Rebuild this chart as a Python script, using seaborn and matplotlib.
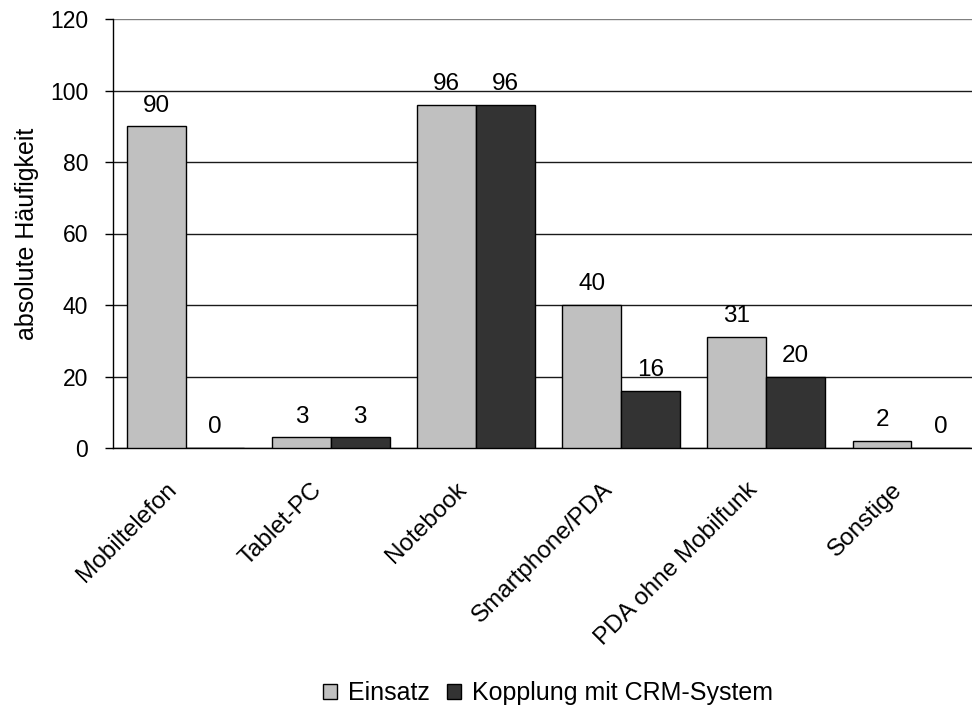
import matplotlib
matplotlib.use("Agg")
import matplotlib.pyplot as plt
import matplotlib.transforms as mtransforms
import seaborn as sns
import pandas as pd
from matplotlib.patches import Patch
from matplotlib.ticker import FixedLocator

# Data
categories = ["Mobiltelefon", "Tablet-PC", "Notebook", "Smartphone/PDA",
              "PDA ohne Mobilfunk", "Sonstige"]
einsatz = [90, 3, 96, 40, 31, 2]
kopplung = [0, 3, 96, 16, 20, 0]
series = ["Einsatz", "Kopplung mit CRM-System"]
colors = ["#C0C0C0", "#333333"]
y_ticks = [0, 20, 40, 60, 80, 100, 120]

df = pd.DataFrame({
    "Gerät": categories * 2,
    "Anzahl": einsatz + kopplung,
    "Serie": [series[0]] * len(categories) + [series[1]] * len(categories),
})

sns.set_style("white", {"text.color": "black", "axes.labelcolor": "black",
                        "xtick.color": "black", "ytick.color": "black"})
plt.rcParams["font.family"] = ["Liberation Sans", "DejaVu Sans"]
FS = 17

fig = plt.figure(figsize=(9.72, 7.10), dpi=100)
ax = fig.add_axes([113 / 972, 1 - 448 / 710, (984 - 113) / 972, (448 - 19) / 710])

sns.barplot(data=df, x="Gerät", y="Anzahl", hue="Serie", order=categories,
            hue_order=series, palette=colors, width=0.81, gap=0,
            edgecolor="black", linewidth=1.0, ax=ax, legend=False, zorder=3)

for cont in ax.containers:
    ax.bar_label(cont, fmt="%d", padding=7, fontsize=FS + 0.5, color="black")

ax.set_ylim(0, 120)
ax.set_xlim(-0.5, len(categories) - 0.5)
ax.set_yticks(y_ticks)
ax.set_yticklabels([str(v) for v in y_ticks], fontsize=FS - 0.5, color="black")
ax.yaxis.grid(True, color="#1a1a1a", linewidth=1.0, zorder=0)
ax.set_axisbelow(True)
# the top gridline is drawn a bit lighter
ax.get_ygridlines()[-1].set_color("#808080")

# category labels at the group centers, tick marks at group borders
ax.set_xticks(range(len(categories)))
ax.set_xticklabels(categories, fontsize=FS + 0.5, rotation=45, ha="right",
                   va="top", rotation_mode="anchor", color="black")
ax.tick_params(axis="x", which="major", length=0, pad=22)
shift = mtransforms.ScaledTranslation(-20 / 100, 0, fig.dpi_scale_trans)
for lbl in ax.get_xticklabels():
    lbl.set_transform(lbl.get_transform() + shift)
ax.xaxis.set_minor_locator(FixedLocator([i - 0.5 for i in range(len(categories) + 1)]))
ax.tick_params(axis="x", which="minor", length=6, width=1, color="black",
               direction="out")
ax.tick_params(axis="y", length=6, width=1, color="black", direction="out",
               left=True, pad=12)

for side in ("top", "right"):
    ax.spines[side].set_visible(False)
for side in ("left", "bottom"):
    ax.spines[side].set_color("black")
    ax.spines[side].set_linewidth(1.0)

ax.set_xlabel("")
ax.set_ylabel("absolute Häufigkeit", fontsize=FS + 1, labelpad=8, color="black")

handles = [Patch(facecolor=c, edgecolor="black", linewidth=1.0) for c in colors]
fig.legend(handles, series, loc="center", bbox_to_anchor=(548 / 972, 1 - 693 / 710),
           ncol=2, frameon=False, fontsize=FS + 1, handlelength=0.55, handleheight=0.55,
           handletextpad=0.45, columnspacing=0.7, borderpad=0, labelcolor="black")

fig.savefig("out.png", dpi=100, facecolor="white")
